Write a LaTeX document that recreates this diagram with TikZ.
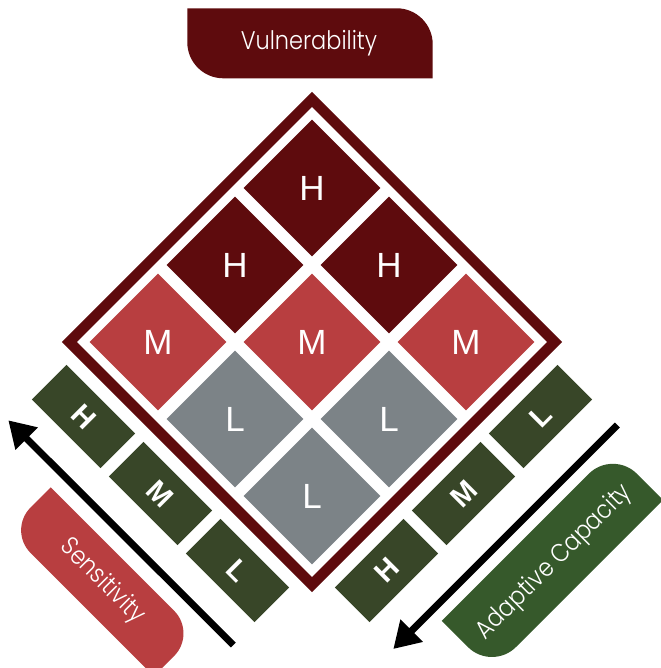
\documentclass[tikz,border=0pt]{standalone}
\usepackage{fontspec}
\setmainfont{Liberation Sans}
\newfontfamily\lblfont{Poppins}[UprightFont={* Light},FakeStretch=0.88]
\newfontfamily\barfont{Liberation Sans Bold}
\usetikzlibrary{arrows.meta,shapes.geometric}
\definecolor{vdark}{RGB}{94,11,13}
\definecolor{vmid}{RGB}{184,62,64}
\definecolor{vgray}{RGB}{124,131,135}
\definecolor{bargreen}{RGB}{56,70,40}
\definecolor{acgreen}{RGB}{54,89,43}
% box with rounded top-right and bottom-left corners (local coords, y down)
\newcommand{\RBox}[4]{%
  \fill[#1] ({-#2/2},{-#3/2}) -- ({#2/2-#4},{-#3/2})
    .. controls ({#2/2-0.448*#4},{-#3/2}) and ({#2/2},{-#3/2+0.448*#4}) .. ({#2/2},{-#3/2+#4})
    -- ({#2/2},{#3/2}) -- ({-#2/2+#4},{#3/2})
    .. controls ({-#2/2+0.448*#4},{#3/2}) and ({-#2/2},{#3/2-0.448*#4}) .. ({-#2/2},{#3/2-#4})
    -- cycle;}
\begin{document}
\begin{tikzpicture}[x=1pt,y=-1pt,
  cell/.style={diamond,aspect=1,minimum width=137pt,minimum height=137pt,inner sep=0pt,
    text=white,font=\fontsize{35}{35}\selectfont},
  cellH/.style={cell,fill=vdark},
  cellM/.style={cell,fill=vmid},
  cellL/.style={cell,fill=vgray},
  bar/.style={rectangle,minimum width=97pt,minimum height=49pt,inner sep=0pt,
    fill=bargreen,text=white,font=\barfont\fontsize{29}{29}\selectfont},
  barleft/.style={bar,rotate=-45},
  barright/.style={bar,rotate=45},
  lbl/.style={text=white,inner sep=0pt,font=\lblfont\fontsize{25.5}{25.5}\selectfont},
  arrowline/.style={line width=7pt,draw=black,-{Triangle[length=26pt,width=30pt]}}]
\useasboundingbox (0,0) rectangle (660,668);
\fill[white] (0,0) rectangle (660,668);

% outer diamond frame
\draw[line width=10.5pt,draw=vdark,miter limit=10]
  (312,99.4) -- (554.6,342) -- (312,584.6) -- (69.4,342) -- cycle;

% grid cells
\node[cellH] (h1) at (312,188) {H};
\node[cellH] (h2) at (235,265) {H};
\node[cellH] (h3) at (389,265) {H};
\node[cellM] (m1) at (158,342) {M};
\node[cellM] (m2) at (312,342) {M};
\node[cellM] (m3) at (466,342) {M};
\node[cellL] (l1) at (235,419) {L};
\node[cellL] (l2) at (389,419) {L};
\node[cellL] (l3) at (312,496) {L};

% sensitivity bars
\node[barleft] (sH) at (83.5,416.5) {H};
\node[barleft] (sM) at (160.5,493.5) {M};
\node[barleft] (sL) at (237.5,570.5) {L};
% adaptive capacity bars
\node[barright] (aL) at (540.5,416.5) {L};
\node[barright] (aM) at (463.5,493.5) {M};
\node[barright] (aH) at (386.5,570.5) {H};

% arrows
\coordinate (sTail) at (233.3,645);
\coordinate (sTip) at (8.3,420.3);
\coordinate (aTail) at (617.3,425);
\coordinate (aTip) at (393.3,649);
\draw[arrowline] (sTail) -- (sTip);
\draw[arrowline] (aTail) -- (aTip);

% labels
\begin{scope}[shift={(310,43.3)}]
  \RBox{vdark}{245.4}{70}{36}
  \node[lbl] (vul) at (-1,0) {Vulnerability};
\end{scope}
\begin{scope}[shift={(102.3,581.8)},rotate=-45]
  \RBox{vmid}{206.5}{60.6}{32}
  \node[lbl,rotate=-45] (sens) at (0,0) {Sensitivity};
\end{scope}
\begin{scope}[shift={(552.4,560.4)},rotate=45]
  \RBox{acgreen}{242}{71}{34}
  \node[lbl,rotate=45] (adap) at (0,3) {Adaptive Capacity};
\end{scope}
\end{tikzpicture}
\end{document}
